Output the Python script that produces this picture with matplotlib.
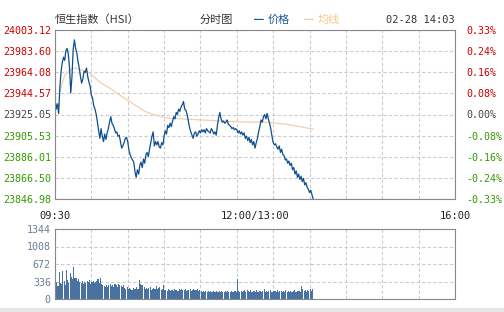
import numpy as np
import matplotlib
matplotlib.use("Agg")
import matplotlib.pyplot as plt

plt.rcParams['font.family'] = ['Noto Sans CJK SC', 'DejaVu Sans']

#%% data
# one value per minute from 09:30 (lunch break removed, 12:00 == 13:00 == minute 150)
price = [23940, 23930, 23935, 23926, 23950, 23965, 23973, 23978, 23975, 23984,
         23986, 23981, 23968, 23945, 23960, 23985, 23994, 23986, 23982, 23974,
         23968, 23960, 23954, 23958, 23965, 23964, 23968, 23960, 23955, 23951,
         23943, 23940, 23933, 23930, 23925, 23918, 23910, 23903, 23912, 23905,
         23900, 23907, 23902, 23908, 23912, 23918, 23923, 23917, 23915, 23912,
         23908, 23909, 23905, 23906, 23900, 23894, 23896, 23899, 23903, 23904,
         23900, 23892, 23888, 23885, 23883, 23881, 23872, 23867, 23874, 23870,
         23878, 23881, 23876, 23884, 23880, 23888, 23890, 23886, 23893, 23899,
         23905, 23909, 23896, 23900, 23897, 23900, 23895, 23894, 23899, 23897,
         23905, 23910, 23907, 23915, 23913, 23917, 23914, 23919, 23923, 23921,
         23927, 23925, 23930, 23928, 23932, 23934, 23937, 23930, 23929, 23925,
         23919, 23913, 23909, 23906, 23903, 23908, 23909, 23905, 23907, 23910,
         23908, 23911, 23909, 23911, 23908, 23912, 23910, 23909, 23908, 23912,
         23910, 23907, 23909, 23906, 23915, 23922, 23927, 23921, 23918, 23919,
         23917, 23918, 23920, 23916, 23915, 23914, 23912, 23913, 23911, 23912,
         23911, 23908, 23910, 23907, 23909, 23906, 23908, 23903, 23905, 23901,
         23904, 23899, 23902, 23897, 23900, 23894, 23899, 23903, 23909, 23914,
         23920, 23918, 23923, 23925, 23921, 23926, 23921, 23917, 23912, 23905,
         23899, 23897, 23898, 23895, 23893, 23896, 23890, 23893, 23888, 23887,
         23883, 23884, 23880, 23882, 23878, 23880, 23874, 23876, 23870, 23873,
         23867, 23870, 23865, 23868, 23863, 23866, 23860, 23862, 23858, 23856,
         23853, 23855, 23851, 23847]

avg_min = [4, 6.3, 8, 12, 16.5, 23, 29, 37, 45, 56, 68.5, 74, 82.5, 93, 107, 121, 138, 158, 175, 191, 208, 213]
avg_price = [23945.8, 23955, 23961.5, 23966, 23968, 23966, 23963, 23955, 23949.5, 23941, 23932, 23928, 23924.5,
             23921.8, 23920.9, 23920, 23919, 23918, 23918, 23916, 23912.6, 23911.7]

volume = [300, 330, 250, 520, 310, 280, 540, 350, 260, 550,
          370, 300, 500, 420, 380, 620, 400, 410, 350, 380,
          330, 310, 350, 290, 330, 300, 340, 320, 360, 290,
          330, 350, 300, 320, 350, 380, 300, 400, 290, 260,
          250, 240, 270, 230, 260, 280, 250, 270, 240, 280,
          260, 230, 280, 270, 250, 230, 260, 210, 200, 230,
          190, 220, 200, 180, 210, 200, 190, 230, 200, 370,
          280, 260, 270, 230, 200, 220, 190, 210, 230, 180,
          200, 220, 190, 250, 200, 210, 230, 180, 200, 260,
          170, 180, 160, 190, 170, 150, 180, 160, 190, 170,
          180, 160, 190, 170, 200, 180, 170, 190, 160, 180,
          170, 190, 160, 180, 200, 170, 180, 190, 160, 170,
          150, 140, 160, 130, 150, 140, 160, 130, 150, 140,
          160, 140, 130, 150, 140, 160, 130, 150, 140, 130,
          150, 140, 160, 130, 140, 150, 130, 140, 150, 130,
          390, 150, 130, 160, 140, 150, 180, 130, 170, 150,
          140, 170, 130, 160, 150, 140, 170, 130, 150, 160,
          140, 150, 190, 130, 160, 140, 150, 170, 130, 140,
          160, 150, 130, 170, 140, 150, 160, 130, 150, 140,
          170, 140, 150, 130, 160, 140, 150, 170, 140, 130,
          150, 160, 140, 250, 200, 150, 170, 140, 180, 160,
          200, 150, 190]

price_ticks = [24003.12, 23983.60, 23964.08, 23944.57, 23925.05, 23905.53, 23886.01, 23866.50, 23846.98]
pct_labels = ["0.33%", "0.24%", "0.16%", "0.08%", "0.00%", "-0.08%", "-0.16%", "-0.24%", "-0.33%"]
vol_ticks = [0, 336, 672, 1008, 1344]

#%% plot
W, H = 504, 312
fig = plt.figure(figsize=(W / 100, H / 100), dpi=100)
fig.patch.set_facecolor("white")

c_up, c_flat, c_dn = "#cc0000", "#444444", "#339900"
c_grid = "#cccccc"
c_spine = "#888888"
mono = "DejaVu Sans Mono"

ax = fig.add_axes([55 / W, 1 - 199 / H, 400 / W, 169 / H])
ax.set_xlim(0, 330)
ax.set_ylim(price_ticks[-1], price_ticks[0])
ax.set_xticks(np.arange(0, 331, 30))
ax.set_yticks(price_ticks)
ax.grid(True, color=c_grid, linestyle=(0, (3, 2)), linewidth=0.8)
ax.tick_params(length=0, labelbottom=False, labelsize=7.2, pad=3)
ax.set_yticklabels([f"{v:.2f}" for v in price_ticks], family=mono)
for v, t in zip(price_ticks, ax.get_yticklabels()):
    t.set_color(c_up if v > 23925.05 + 0.01 else (c_dn if v < 23925.05 - 0.01 else c_flat))
for s in ax.spines.values():
    s.set_color(c_spine)

ax.plot(avg_min, avg_price, color="#f2cfae", linewidth=0.9)
ax.plot(np.arange(len(price)), price, color="#0f4f8f", linewidth=0.9)

ax2 = ax.twinx()
ax2.set_ylim(ax.get_ylim())
ax2.set_yticks(price_ticks)
ax2.set_yticklabels(pct_labels, family=mono)
ax2.tick_params(length=0, labelsize=7.2, pad=8)
for lab, t in zip(pct_labels, ax2.get_yticklabels()):
    t.set_color(c_flat if lab == "0.00%" else (c_dn if lab.startswith("-") else c_up))
for s in ax2.spines.values():
    s.set_visible(False)

# time labels
for xv, lab in [(0, "09:30"), (165, "12:00/13:00"), (330, "16:00")]:
    ax.text(xv, -0.1, lab, transform=ax.get_xaxis_transform(), ha="center", va="center",
            fontsize=7.5, family=mono, color="#222222")

# header
fig.text(55 / W, 1 - 20 / H, "恒生指数（HSI）", fontsize=8, color="#333333", va="center")
fig.text(200 / W, 1 - 20 / H, "分时图", fontsize=8, color="#333333", va="center")
fig.text(254 / W, 1 - 20 / H, "━", fontsize=7, color="#1a5a9a", va="center")
fig.text(268 / W, 1 - 20 / H, "价格", fontsize=8, color="#1a5a9a", va="center")
fig.text(304 / W, 1 - 20 / H, "━", fontsize=7, color="#f0c890", va="center")
fig.text(318 / W, 1 - 20 / H, "均线", fontsize=8, color="#f0c890", va="center")
fig.text(455 / W, 1 - 20 / H, "02-28 14:03", fontsize=7.5, family=mono, color="#333333",
         va="center", ha="right")

# volume panel
axv = fig.add_axes([55 / W, 1 - 299 / H, 400 / W, 70 / H])
axv.bar(np.arange(len(volume)) + 0.5, volume, width=0.9, color="#4a72a0", linewidth=0)
axv.set_xlim(0, 330)
axv.set_ylim(0, 1344)
axv.set_xticks(np.arange(0, 331, 30))
axv.set_yticks(vol_ticks)
axv.set_yticklabels([str(v) for v in vol_ticks], family=mono)
axv.grid(True, color=c_grid, linestyle=(0, (3, 2)), linewidth=0.8)
axv.set_axisbelow(True)
axv.tick_params(length=0, labelbottom=False, labelsize=7.2, pad=3, labelcolor="#6a7d92")
for s in axv.spines.values():
    s.set_color(c_spine)

# bottom grey band
fig.patches.append(plt.Rectangle((0, 0), 1, 4 / H, transform=fig.transFigure,
                                 color="#e6e6e6", zorder=0))

fig.savefig("out.png", dpi=100)
